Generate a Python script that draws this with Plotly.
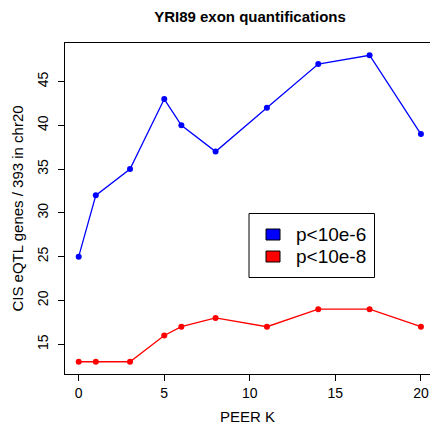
import plotly.graph_objects as go

peer_k = [0, 1, 3, 5, 6, 8, 11, 14, 17, 20]
p6_counts = [25, 32, 35, 43, 40, 37, 42, 47, 48, 39]
p8_counts = [13, 13, 13, 16, 17, 18, 17, 19, 19, 17]
series_names = ["p<10e-6", "p<10e-8"]
colors = ["#0000ff", "#ff0000"]
x_ticks = [0, 5, 10, 15, 20]
y_ticks = [15, 20, 25, 30, 35, 40, 45]

font = "Liberation Sans, Arial, Helvetica, sans-serif"

W, H = 430, 425
L, R, T, B = 65, 0, 43, 51
pw, ph = W - L - R, H - T - B


def px_x(p):
    return (p - L) / pw


def px_y(p):
    return (H - B - p) / ph


fig = go.Figure()
for name, ys, c in zip(series_names, [p6_counts, p8_counts], colors):
    fig.add_trace(go.Scatter(x=peer_k, y=ys, mode="lines+markers", name=name,
                             line=dict(color=c, width=1.3),
                             marker=dict(color=c, size=6),
                             showlegend=False, cliponaxis=False))

# manual legend (R style)
shapes = [dict(type="rect", xref="paper", yref="paper",
               x0=px_x(249), x1=px_x(374.5), y0=px_y(213.5), y1=px_y(277.5),
               line=dict(color="black", width=1), fillcolor="white", layer="above")]
annotations = []
for i, (name, c) in enumerate(zip(series_names, colors)):
    cy = 234.5 + 22 * i
    shapes.append(dict(type="rect", xref="paper", yref="paper",
                       x0=px_x(266), x1=px_x(280), y0=px_y(cy - 5.5), y1=px_y(cy + 5.5),
                       line=dict(color="black", width=1), fillcolor=c, layer="above"))
    annotations.append(dict(xref="paper", yref="paper", x=px_x(294), y=px_y(cy),
                            xanchor="left", yanchor="middle", showarrow=False,
                            text=name, font=dict(size=19)))

fig.update_layout(
    width=W, height=H,
    margin=dict(l=L, r=R, t=T, b=B),
    paper_bgcolor="white", plot_bgcolor="white",
    font=dict(family=font, size=14, color="black"),
    title=dict(text="<b>YRI89 exon quantifications</b>", x=(250 / W), xanchor="center",
               y=1 - 17 / H, yanchor="middle", font=dict(size=15)),
    xaxis=dict(range=[-0.8, 20.53], tickvals=x_ticks, showgrid=False, zeroline=False,
               showline=True, mirror=True, linecolor="black", linewidth=1,
               ticks="outside", ticklen=6, tickcolor="black",
               title=dict(text="PEER K", standoff=12, font=dict(size=15))),
    yaxis=dict(range=[11.6, 49.4], tickvals=y_ticks, showgrid=False, zeroline=False,
               showline=True, linecolor="black", linewidth=1, tickangle=-90,
               ticks="outside", ticklen=6, tickcolor="black", ticklabelstandoff=4,
               title=dict(text="CIS eQTL genes / 393 in chr20", standoff=8, font=dict(size=15))),
    shapes=shapes,
    annotations=annotations,
    showlegend=False,
)
fig.write_html("out.html")
